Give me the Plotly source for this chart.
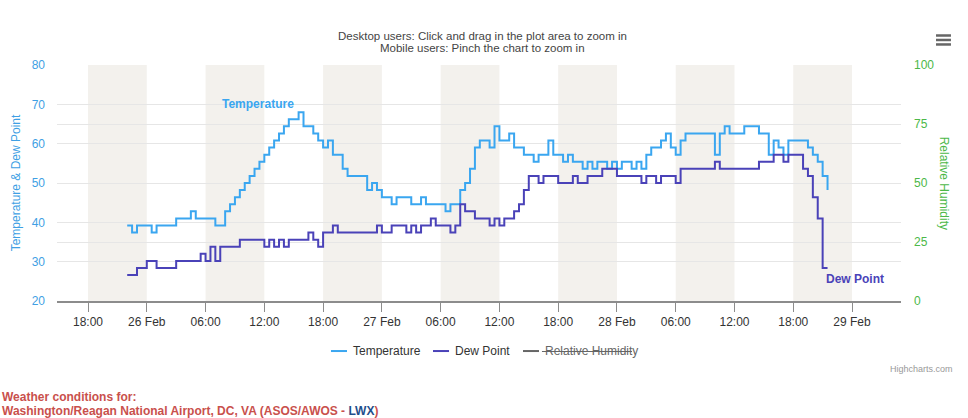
import pandas as pd
import plotly.graph_objects as go

# half-hourly readings, 25 Feb 22:00 -> 28 Feb 21:30 (deg F)
start = "2024-02-25 22:00"
temperature = [
    39.2, 37.4, 39.2, 39.2, 39.2, 37.4, 39.2, 39.2, 39.2, 39.2, 41, 41,
    41, 42.8, 41, 41, 41, 41, 39.2, 39.2, 42.8, 44.6, 46.4, 48.2,
    50, 51.8, 53.6, 55.4, 57.2, 59, 60.8, 62.6, 64.4, 66.2, 66.2, 68,
    64.4, 64.4, 62.6, 60.8, 59, 60.8, 57.2, 57.2, 53.6, 51.8, 51.8, 51.8,
    51.8, 48.2, 50, 48.2, 46.4, 46.4, 44.6, 46.4, 46.4, 46.4, 44.6, 44.6,
    46.4, 44.6, 44.6, 44.6, 44.6, 42.8, 44.6, 44.6, 48.2, 50, 53.6, 59,
    60.8, 60.8, 59, 64.4, 60.8, 60.8, 62.6, 59, 59, 57.2, 57.2, 55.4,
    57.2, 57.2, 60.8, 57.2, 57.2, 55.4, 57.2, 55.4, 55.4, 53.6, 55.4, 53.6,
    55.4, 55.4, 53.6, 55.4, 53.6, 55.4, 55.4, 53.6, 55.4, 53.6, 57.2, 59,
    59, 60.8, 62.6, 59, 57.2, 60.8, 62.6, 62.6, 62.6, 62.6, 62.6, 62.6,
    57.2, 62.6, 64.4, 62.6, 62.6, 62.6, 64.4, 64.4, 64.4, 62.6, 62.6, 57.2,
    60.8, 59, 57.2, 60.8, 60.8, 60.8, 60.8, 59, 57.2, 55.4, 51.8, 48.2,
]
dew_point = [
    26.6, 26.6, 28.4, 28.4, 30.2, 30.2, 28.4, 28.4, 28.4, 28.4, 30.2, 30.2,
    30.2, 30.2, 30.2, 32, 30.2, 33.8, 30.2, 33.8, 33.8, 33.8, 33.8, 35.6,
    35.6, 35.6, 35.6, 35.6, 33.8, 35.6, 33.8, 35.6, 33.8, 35.6, 35.6, 35.6,
    35.6, 37.4, 35.6, 33.8, 37.4, 37.4, 39.2, 37.4, 37.4, 37.4, 37.4, 37.4,
    37.4, 37.4, 37.4, 39.2, 37.4, 37.4, 39.2, 39.2, 39.2, 37.4, 39.2, 37.4,
    39.2, 39.2, 41, 39.2, 39.2, 39.2, 37.4, 39.2, 44.6, 42.8, 42.8, 41,
    41, 41, 39.2, 41, 39.2, 41, 41, 42.8, 44.6, 48.2, 51.8, 51.8,
    50, 51.8, 51.8, 51.8, 50, 50, 50, 51.8, 50, 50, 51.8, 51.8,
    51.8, 53.6, 53.6, 53.6, 51.8, 51.8, 51.8, 51.8, 51.8, 50, 51.8, 51.8,
    50, 51.8, 51.8, 51.8, 50, 53.6, 53.6, 53.6, 53.6, 53.6, 53.6, 53.6,
    55.4, 53.6, 53.6, 53.6, 53.6, 53.6, 53.6, 53.6, 53.6, 55.4, 55.4, 55.4,
    57.2, 57.2, 55.4, 57.2, 57.2, 57.2, 53.6, 51.8, 46.4, 41, 28.4, 28.4,
]
times = pd.date_range(start, periods=len(temperature), freq="30min")

tick_times = pd.date_range("2024-02-25 18:00", "2024-02-29 00:00", freq="6h")
tick_labels = [
    "18:00", "26 Feb", "06:00", "12:00", "18:00", "27 Feb", "06:00", "12:00",
    "18:00", "28 Feb", "06:00", "12:00", "18:00", "29 Feb",
]

FONT = "Liberation Sans, Arial, sans-serif"
TEMP_COLOR = "#3aa6f0"
DEW_COLOR = "#4a42b8"
RH_COLOR = "#666666"
BLUE_LABEL = "#3f9fe4"
GREEN_LABEL = "#4cb848"

fig = go.Figure()
fig.add_trace(go.Scatter(x=times, y=temperature, name="Temperature", mode="lines",
                         line=dict(color=TEMP_COLOR, width=2, shape="hv")))
fig.add_trace(go.Scatter(x=times, y=dew_point, name="Dew Point", mode="lines",
                         line=dict(color=DEW_COLOR, width=2, shape="hv")))
# humidity series is switched off in the source chart, only its axis remains
fig.add_trace(go.Scatter(x=[], y=[], yaxis="y2", mode="lines", visible="legendonly",
                         name="Relative Humidity", line=dict(color=RH_COLOR, width=2)))

# alternating 6 hour bands
shapes = []
for i in range(0, len(tick_times) - 1, 2):
    shapes.append(dict(type="rect", xref="x", yref="paper", x0=tick_times[i], x1=tick_times[i + 1],
                       y0=0, y1=1, fillcolor="#f3f1ed", line_width=0, layer="below"))
# export menu icon
for yy in (1.125, 1.106, 1.087):
    shapes.append(dict(type="line", xref="paper", yref="paper", x0=1.0415, x1=1.0592, y0=yy, y1=yy,
                       line=dict(color="#666666", width=2.5)))

# legend drawn by hand (short Highcharts style symbols, struck-through hidden item)
legend_y = -0.212
legend_items = [("Temperature", TEMP_COLOR, 0.3246, "#333333"),
                ("Dew Point", DEW_COLOR, 0.4455, "#333333"),
                ("Relative Humidity", RH_COLOR, 0.5521, "#666666")]
annotations = []
for label, color, x0, tcolor in legend_items:
    shapes.append(dict(type="line", xref="paper", yref="paper", x0=x0, x1=x0 + 0.019,
                       y0=legend_y, y1=legend_y, line=dict(color=color, width=2)))
    annotations.append(dict(x=x0 + 0.0235, y=legend_y, xref="paper", yref="paper", xanchor="left",
                            yanchor="middle", text=label, showarrow=False,
                            font=dict(size=12, color=tcolor)))
shapes.append(dict(type="line", xref="paper", yref="paper", x0=0.5746, x1=0.6813,
                   y0=legend_y - 0.002, y1=legend_y - 0.002, line=dict(color="#666666", width=1)))

subtitle_lines = ["Desktop users: Click and drag in the plot area to zoom in",
                  "Mobile users: Pinch the chart to zoom in"]
for line, yy in zip(subtitle_lines, (1.123, 1.072)):
    annotations.append(dict(x=0.5047, y=yy, xref="paper", yref="paper", xanchor="center",
                            yanchor="middle", text=line, showarrow=False,
                            font=dict(size=11.5, color="#444444")))

annotations += [
    dict(x=pd.Timestamp("2024-02-26 11:24"), y=70.2, xref="x", yref="y", text="<b>Temperature</b>",
         showarrow=False, font=dict(size=12, color=TEMP_COLOR)),
    dict(x=pd.Timestamp("2024-02-29 00:18"), y=25.7, xref="x", yref="y", text="<b>Dew Point</b>",
         showarrow=False, font=dict(size=12, color=DEW_COLOR)),
    dict(x=1.062, y=0.5, xref="paper", yref="paper", textangle=90, text="Relative Humidity",
         showarrow=False, font=dict(size=12, color=GREEN_LABEL)),
    dict(x=1.064, y=-0.29, xref="paper", yref="paper", xanchor="right", yanchor="middle",
         text="Highcharts.com", showarrow=False, font=dict(size=9, color="#999999")),
    dict(x=-57 / 844, y=-0.407, xref="paper", yref="paper", xanchor="left", yanchor="middle",
         text="<b>Weather conditions for:</b>", showarrow=False, font=dict(size=12, color="#c9504c")),
    dict(x=-57 / 844, y=-0.466, xref="paper", yref="paper", xanchor="left", yanchor="middle",
         text="<b>Washington/Reagan National Airport, DC, VA (ASOS/AWOS - "
              "<span style='color:#1f4f8c'>LWX</span>)</b>",
         showarrow=False, font=dict(size=12, color="#c9504c")),
]

fig.update_layout(
    width=968, height=418,
    margin=dict(l=57, r=67, t=65, b=117),
    paper_bgcolor="white", plot_bgcolor="white",
    font=dict(family=FONT, size=12, color="#333333"),
    shapes=shapes,
    annotations=annotations,
    showlegend=False,
    xaxis=dict(range=[pd.Timestamp("2024-02-25 14:50"), pd.Timestamp("2024-02-29 05:00")],
               tickvals=tick_times, ticktext=tick_labels, ticks="outside", ticklen=9,
               tickcolor="#8c8c8c", showline=True, linecolor="#8c8c8c", linewidth=1.5,
               showgrid=False, zeroline=False, tickfont=dict(size=12, color="#333333")),
    yaxis=dict(range=[20, 80], dtick=10, showgrid=True, gridcolor="#e6e6e6", zeroline=False,
               tickfont=dict(size=12, color=BLUE_LABEL), ticklabelstandoff=11,
               title=dict(text="Temperature & Dew Point", font=dict(size=12, color=BLUE_LABEL), standoff=8)),
    yaxis2=dict(range=[0, 100], dtick=25, overlaying="y", side="right", showgrid=True,
                gridcolor="#e6e6e6", zeroline=False, tickfont=dict(size=12, color=GREEN_LABEL),
                ticklabelstandoff=12),
)

fig.write_html("out.html", config={"displayModeBar": False},
               post_script="document.body.style.margin='0';")
